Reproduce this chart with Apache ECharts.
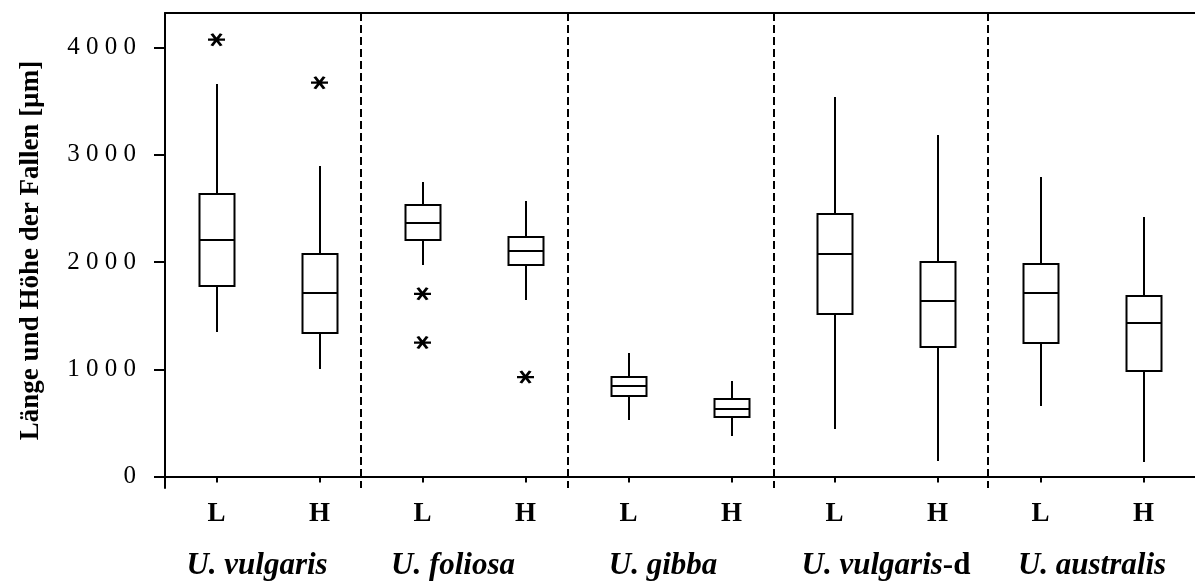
<!DOCTYPE html>
<html>
<head>
<meta charset="utf-8">
<script src="https://cdn.jsdelivr.net/npm/echarts@6/dist/echarts.min.js"></script>
<style>
html,body{margin:0;padding:0;background:#fff;}
#chart{width:1195px;height:583px;}
</style>
</head>
<body>
<div id="chart"></div>
<script>
// ---- data ----
const categories = ['L','H','L','H','L','H','L','H','L','H'];
const species = ['U. vulgaris','U. foliosa','U. gibba','U. vulgaris-d','U. australis'];
const whiskerLow  = [1343, 1001, 1974, 1648,  529,  380,  445,  140,  659,  131];
const quartile1   = [1778, 1337, 2207, 1974,  746,  550, 1517, 1212, 1249,  988];
const medians     = [2207, 1716, 2363, 2105,  848,  628, 2077, 1638, 1716, 1430];
const quartile3   = [2633, 2074, 2533, 2232,  932,  722, 2447, 2005, 1983, 1688];
const whiskerHigh = [3659, 2900, 2751, 2573, 1156,  895, 3543, 3186, 2792, 2419];
// outliers: [category index, value]
const outlierIndex = [0, 1, 2, 2, 3];
const outlierValue = [4075, 3674, 1704, 1249, 927];
const yTicks = [0, 1000, 2000, 3000, 4000];
const yAxisTitle = 'Länge und Höhe der Fallen [µm]';

const FONT = 'Liberation Serif';
const boxData = categories.map((c, i) => [i, whiskerLow[i], quartile1[i], medians[i], quartile3[i], whiskerHigh[i]]);
const outlierData = outlierIndex.map((c, i) => [c, outlierValue[i]]);
const dividerData = [[1.9], [3.91], [5.91], [7.99]];
const labelShift = [22, 42, 34, 0, 0];

function renderBox(params, api) {
  const x = api.value(0);
  const R = Math.round;
  const yMin = R(api.coord([x, api.value(1)])[1]);
  const yQ1 = R(api.coord([x, api.value(2)])[1]);
  const yMed = R(api.coord([x, api.value(3)])[1]);
  const yQ3 = R(api.coord([x, api.value(4)])[1]);
  const yMax = R(api.coord([x, api.value(5)])[1]);
  const w = R(api.size([1, 0])[0] * 0.34);
  const cx = R(api.coord([x, 0])[0]);
  const st = {stroke: '#000', lineWidth: 2, fill: null};
  return {
    type: 'group',
    children: [
      {type: 'line', shape: {x1: cx, y1: yMax, x2: cx, y2: yQ3}, style: st},
      {type: 'line', shape: {x1: cx, y1: yQ1, x2: cx, y2: yMin}, style: st},
      {type: 'rect', shape: {x: cx - w / 2, y: yQ3, width: w, height: yQ1 - yQ3}, style: {stroke: '#000', lineWidth: 2, fill: '#fff'}},
      {type: 'line', shape: {x1: cx - w / 2, y1: yMed, x2: cx + w / 2, y2: yMed}, style: st}
    ]
  };
}

function renderDivider(params, api) {
  const p = api.coord([api.value(0), 0]);
  const cs = params.coordSys;
  const x = Math.round(p[0]);
  return {
    type: 'line',
    shape: {x1: x, y1: cs.y, x2: x, y2: cs.y + cs.height},
    style: {stroke: '#000', lineWidth: 2, lineDash: [8, 4]}
  };
}

const chart = echarts.init(document.getElementById('chart'), null, {renderer: 'canvas'});
const rich = {
  i: {fontFamily: FONT, fontSize: 31, fontWeight: 'bold', fontStyle: 'italic', color: '#000'},
  b: {fontFamily: FONT, fontSize: 31, fontWeight: 'bold', fontStyle: 'normal', color: '#000'}
};
labelShift.forEach((s, k) => { rich['g' + k] = {width: s, fontSize: 31, fontFamily: FONT}; });

chart.setOption({
  backgroundColor: '#fff',
  animation: false,
  grid: {left: 165, top: 13, width: 1032, height: 475, containLabel: false},
  xAxis: [
    {
      type: 'category', data: categories, position: 'bottom', boundaryGap: true,
      axisLine: {show: true, lineStyle: {color: '#000', width: 2}},
      axisTick: {show: true, alignWithLabel: true, interval: 0, length: 6, lineStyle: {color: '#000', width: 2}},
      axisLabel: {interval: 0, margin: 13, fontFamily: FONT, fontSize: 27, fontWeight: 'bold', color: '#000'},
      splitLine: {show: false}
    },
    {
      type: 'category', data: species, position: 'bottom', boundaryGap: true,
      axisLine: {show: false}, axisTick: {show: false}, splitLine: {show: false},
      axisLabel: {
        interval: 0, margin: 62,
        formatter: function (v, idx) {
          const gap = labelShift[idx] ? '{g' + idx + '| }' : '';
          if (v.endsWith('-d')) return '{i|' + v.slice(0, -2) + '}{b|-d}' + gap;
          return '{i|' + v + '}' + gap;
        },
        rich: rich
      }
    },
    {
      type: 'value', position: 'top', min: 0, max: 10,
      axisLine: {show: true, onZero: false, lineStyle: {color: '#000', width: 2}},
      axisTick: {show: false}, axisLabel: {show: false}, splitLine: {show: false}
    }
  ],
  yAxis: {
    type: 'value', min: -108, max: 4324,
    name: yAxisTitle, nameLocation: 'middle', nameGap: 120, nameRotate: 90,
    nameTextStyle: {fontFamily: FONT, fontSize: 27, fontWeight: 'bold', color: '#000'},
    axisLine: {show: true, onZero: false, lineStyle: {color: '#000', width: 2}},
    axisTick: {show: true, customValues: yTicks, length: 11, lineStyle: {color: '#000', width: 2}},
    axisLabel: {
      customValues: yTicks, margin: 29, fontFamily: FONT, fontSize: 25, color: '#000',
      formatter: v => String(v).split('').join(' ')
    },
    splitLine: {show: false}
  },
  series: [
    {type: 'custom', xAxisIndex: 2, yAxisIndex: 0, data: dividerData, renderItem: renderDivider, silent: true, clip: false},
    {type: 'custom', xAxisIndex: 0, yAxisIndex: 0, data: boxData, renderItem: renderBox, silent: true,
     encode: {x: 0, y: [1, 2, 3, 4, 5]}},
    {type: 'scatter', xAxisIndex: 0, yAxisIndex: 0, data: outlierData, silent: true,
     symbol: 'path://M0,6L18,6M4,0L14,12M4,12L14,0', symbolSize: [17, 12],
     itemStyle: {color: 'rgba(0,0,0,0)', borderColor: '#000', borderWidth: 2.6, opacity: 1}}
  ]
});
</script>
</body>
</html>
